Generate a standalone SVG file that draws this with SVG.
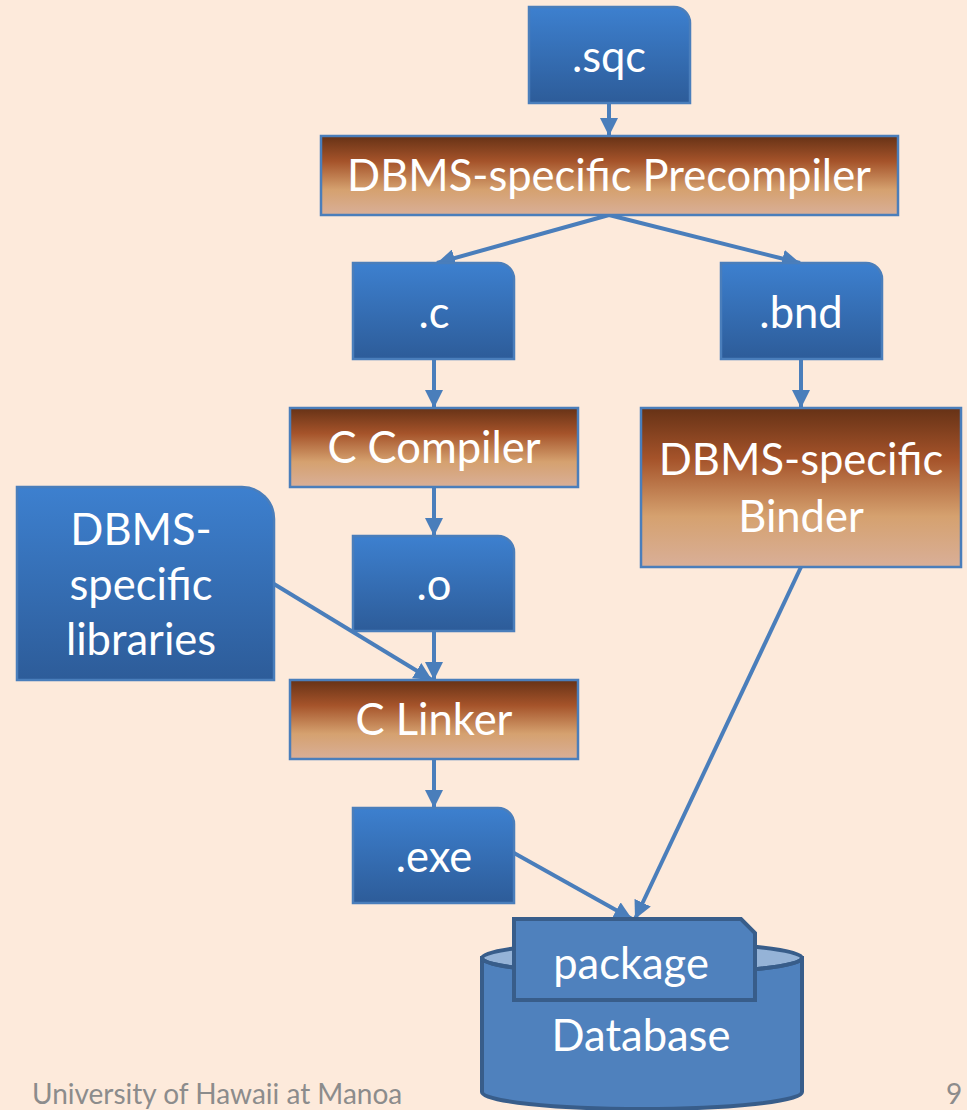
<svg xmlns="http://www.w3.org/2000/svg" width="967" height="1110" viewBox="0 0 967 1110">
<defs>
<linearGradient id="gBlue" x1="0" y1="0" x2="0" y2="1">
<stop offset="0" stop-color="#3D80CF"/>
<stop offset="1" stop-color="#2D5C99"/>
</linearGradient>
<linearGradient id="gBrown" x1="0" y1="0" x2="0" y2="1">
<stop offset="0" stop-color="#663216"/>
<stop offset="0.32" stop-color="#A5532A"/>
<stop offset="0.68" stop-color="#D5A16F"/>
<stop offset="1" stop-color="#D9AF98"/>
</linearGradient>
<marker id="ah" viewBox="0 0 10 10" refX="10" refY="5" markerWidth="4.5" markerHeight="4.5" orient="auto" markerUnits="strokeWidth">
<path d="M0,0 L10,5 L0,10 z" fill="#4A7EBB"/>
</marker>
<style>
.blue{fill:url(#gBlue);stroke:#4A7EBB;stroke-width:2.5}
.brown{fill:url(#gBrown);stroke:#4A7EBB;stroke-width:2.5}
.t{font-family:Lato,"Liberation Sans",sans-serif;fill:#FFFFFF;text-anchor:middle;font-size:43.5px}
.c{stroke:#4A7EBB;stroke-width:4;fill:none;marker-end:url(#ah)}
.db{fill:#4F81BD;stroke:#385D8A;stroke-width:4}
.foot{font-family:Lato,"Liberation Sans",sans-serif;fill:#8C8C8C;font-size:28px}
</style>
</defs>
<rect x="0" y="0" width="967" height="1110" fill="#FDEADB"/>

<g id="connectors">
<line class="c" x1="609" y1="103" x2="609" y2="136"/>
<line class="c" x1="609" y1="215" x2="437" y2="263"/>
<line class="c" x1="609" y1="215" x2="800" y2="263"/>
<line class="c" x1="434" y1="359" x2="434" y2="408"/>
<line class="c" x1="801" y1="359" x2="801" y2="408"/>
<line class="c" x1="434" y1="487" x2="434" y2="536"/>
<line class="c" x1="274" y1="584" x2="432" y2="680"/>
<line class="c" x1="434" y1="631" x2="434" y2="680"/>
<line class="c" x1="434" y1="759" x2="434" y2="808"/>
<line class="c" x1="514" y1="853" x2="632" y2="919"/>
<line class="c" x1="801" y1="567" x2="635" y2="919"/>
</g>

<g id="sqc">
<path class="blue" d="M529,7 H674 A16,16 0 0 1 690,23 V103 H529 Z"/>
<text class="t" x="609" y="72">.sqc</text>
</g>

<g id="precompiler">
<rect class="brown" x="321" y="136" width="577" height="79"/>
<text class="t" x="609" y="191">DBMS-specific Precompiler</text>
</g>

<g id="c">
<path class="blue" d="M353,263 H498 A16,16 0 0 1 514,279 V359 H353 Z"/>
<text class="t" x="434" y="328">.c</text>
</g>

<g id="bnd">
<path class="blue" d="M721,263 H866 A16,16 0 0 1 882,279 V359 H721 Z"/>
<text class="t" x="801" y="328">.bnd</text>
</g>

<g id="ccompiler">
<rect class="brown" x="290" y="408" width="288" height="79"/>
<text class="t" x="434" y="463">C Compiler</text>
</g>

<g id="binder">
<rect class="brown" x="641" y="408" width="320" height="159"/>
<text class="t" x="801" y="475">DBMS-specific</text>
<text class="t" x="801" y="532">Binder</text>
</g>

<g id="o">
<path class="blue" d="M353,536 H498 A16,16 0 0 1 514,552 V631 H353 Z"/>
<text class="t" x="434" y="600">.o</text>
</g>

<g id="libraries">
<path class="blue" d="M17,487 H242 A32,32 0 0 1 274,519 V680 H17 Z"/>
<text class="t" x="141" y="545">DBMS-</text>
<text class="t" x="141" y="600">specific</text>
<text class="t" x="141" y="655">libraries</text>
</g>

<g id="clinker">
<rect class="brown" x="290" y="680" width="288" height="79"/>
<text class="t" x="434" y="735">C Linker</text>
</g>

<g id="exe">
<path class="blue" d="M353,808 H498 A16,16 0 0 1 514,824 V903 H353 Z"/>
<text class="t" x="434" y="872">.exe</text>
</g>

<g id="database">
<path class="db" d="M482,958 V1092 A160,17 0 0 0 802,1092 V958 Z"/>
<ellipse cx="642" cy="958" rx="160" ry="16" fill="#95B3D7" stroke="#385D8A" stroke-width="4"/>
<path d="M482,958 A160,16 0 0 0 802,958" fill="none" stroke="#385D8A" stroke-width="4"/>
<text class="t" x="641" y="1051">Database</text>
</g>

<g id="package">
<path class="db" d="M514,919 H741 L755,933 V1000 H514 Z"/>
<text class="t" x="631" y="979">package</text>
</g>

<text class="foot" x="32" y="1104">University of Hawaii at Manoa</text>
<text class="foot" x="946" y="1104">9</text>
</svg>
